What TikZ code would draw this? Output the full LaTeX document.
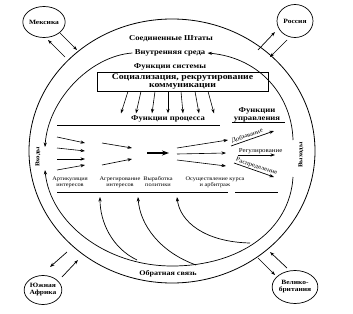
\documentclass[tikz,border=0pt]{standalone}
\usepackage{fontspec}
\setmainfont{Liberation Serif}[FakeStretch=1.15]
\usetikzlibrary{arrows.meta,shapes.geometric}
\begin{document}
\begin{tikzpicture}[x=1pt,y=-1pt,
  line width=0.7pt,
  arr/.style={-{Stealth[length=4.5pt,width=3.2pt]}},
  heading/.style={font=\fontsize{7.5}{8}\selectfont\bfseries, inner sep=0pt, align=center},
  boxtext/.style={font=\fontsize{8.5}{7.5}\selectfont\bfseries, align=center},
  small/.style={font=\fontsize{5.5}{6}\selectfont, align=center, inner sep=0pt},
  mlab/.style={font=\fontsize{6}{6}\selectfont, inner sep=0.5pt, anchor=south west},
  outlab/.style={font=\fontsize{6}{6}\selectfont\bfseries, inner sep=0pt},
  country/.style={draw, ellipse, inner sep=0pt, font=\fontsize{6.5}{7}\selectfont\bfseries, align=center},
]
\useasboundingbox (0,0) rectangle (353,313);

% environment circle
\node[draw, ellipse, minimum width=286pt, minimum height=264pt, line width=0.8pt] (env) at (172,151) {};

% countries
\node[country, minimum width=35pt, minimum height=31pt] (mex) at (44,22) {Мексика};
\node[country, minimum width=36pt, minimum height=33pt] (rus) at (295,21) {Россия};
\node[country, minimum width=37pt, minimum height=29pt] (saf) at (43,290) {Южная\\Африка};
\node[country, minimum width=38pt, minimum height=33pt] (gb) at (295,287) {Велико-\\британия};

\coordinate (m1a) at (65,57);  \coordinate (m1b) at (48,40);
\coordinate (m2a) at (60,33);  \coordinate (m2b) at (77,50);
\coordinate (r1a) at (258,50); \coordinate (r1b) at (275,32);
\coordinate (r2a) at (287,40); \coordinate (r2b) at (270,57);
\coordinate (s1a) at (67,252); \coordinate (s1b) at (50,267);
\coordinate (s2a) at (62,277); \coordinate (s2b) at (78,260);
\coordinate (g1a) at (258,258); \coordinate (g1b) at (275,275);
\coordinate (g2a) at (287,268); \coordinate (g2b) at (270,252);
\foreach \a/\b in {m1a/m1b,m2a/m2b,r1a/r1b,r2a/r2b,s1a/s1b,s2a/s2b,g1a/g1b,g2a/g2b}
  \draw[arr] (\a) -- (\b);

% headings
\node[heading] (us) at (171,39) {Соединенные Штаты};
\node[heading] (inner) at (170,53) {Внутренняя среда};
\node[heading] (sysf) at (170,67) {Функции системы};
\node[draw, minimum width=171pt, minimum height=19pt, inner sep=0pt, boxtext] (box) at (182.5,81.5) {Социализация, рекрутирование\\коммуникации};

% inner environment arcs
\coordinate (inR) at (293,140);
\coordinate (inL) at (45,147);
\draw[arr] (inR) .. controls (292,98) and (262,58) .. ([xshift=2pt]inner.east);
\draw[arr] ([xshift=-2pt]inner.west) .. controls (90,56) and (48,100) .. (inL);

% fan arrows from box
\foreach \sx/\dx in {-54.5/-7,-41.5/-5,-27.5/-3,-14.5/0,-1.5/2,12.5/4,25.5/6}
  \draw[arr, line width=0.6pt] ([xshift=\sx pt]box.south) -- ++(\dx,22);

\node[heading] (procf) at (168,119) {Функции процесса};
\coordinate (l1a) at (57,125); \coordinate (l1b) at (220,125);
\draw (l1a) -- (l1b);

\node[heading] (manf) at (257,115) {Функции\\управления};
\coordinate (u1a) at (232,122); \coordinate (u1b) at (285,122);
\draw (u1a) -- (u1b);

% side labels
\node[outlab, rotate=90] (inputs) at (38,157) {Входы};
\node[outlab, rotate=90] (outputs) at (301,155) {Выходы};

% input arrows
\foreach \ya/\yb in {137/143,148/151,159/159,170/165}
  \draw[arr, line width=0.6pt] (57,\ya) -- (85,\yb);
% aggregation arrows
\draw[arr, line width=0.6pt] (102,143) -- (132,148);
\draw[arr, line width=0.6pt] (102,165) -- (132,159);
% bold arrow
\draw[-{Stealth[length=7pt,width=5pt]}, line width=1.6pt] (147,153) -- (169,153);
% policy outputs
\draw[arr, line width=0.6pt] (177,148) -- (228,140);
\draw[arr, line width=0.6pt] (177,154) -- (226,153);
\draw[arr, line width=0.6pt] (177,160) -- (226,166);

% management outputs
\coordinate (d1) at (231,146); \coordinate (d2) at (274,131);
\draw[arr] (d1) -- (d2);
\node[mlab, rotate=19] (dob) at (232,145) {Добывание};
\coordinate (rg1) at (238,155); \coordinate (rg2) at (275,155);
\draw[arr] (rg1) -- (rg2);
\node[mlab] (reg) at (238,154.5) {Регулирование};
\coordinate (rs1) at (234,163); \coordinate (rs2) at (274,177);
\draw[arr] (rs1) -- (rs2);
\node[mlab, rotate=-19] (ras) at (234,162.5) {Распределение};

% process labels
\node[small] (art) at (70,182) {Артикуляция\\интересов};
\node[small] (agr) at (120,182) {Агрегирование\\интересов};
\node[small] (vyr) at (158,182) {Выработка\\политики};
\node[small] (osu) at (215,182) {Осуществление курса\\и арбитраж};
\coordinate (l2a) at (57,192); \coordinate (l2b) at (228,192);
\draw (l2a) -- (l2b);
\coordinate (l3a) at (235,192); \coordinate (l3b) at (278,192);
\draw (l3a) -- (l3b);

% feedback
\node[heading, font=\fontsize{7}{7}\selectfont\bfseries] (fb) at (168,274) {Обратная связь};
\coordinate (fbR) at (293,177);
\coordinate (fbL) at (45,170);
\coordinate (fbM) at (172,266);
\draw[arr] (fbR) .. controls (290,230) and (240,266) .. (fbM) .. controls (105,266) and (50,222) .. (fbL);
\coordinate (fa) at (137,260); \coordinate (fat) at (100,197);
\coordinate (fb1) at (196,265); \coordinate (fbt) at (138,197);
\coordinate (fc) at (250,243); \coordinate (fct) at (177,197);
\draw[arr] (fa) .. controls (112,248) and (100,222) .. (fat);
\draw[arr] (fb1) .. controls (160,252) and (140,225) .. (fbt);
\draw[arr] (fc) .. controls (205,242) and (180,222) .. (fct);
\end{tikzpicture}
\end{document}
